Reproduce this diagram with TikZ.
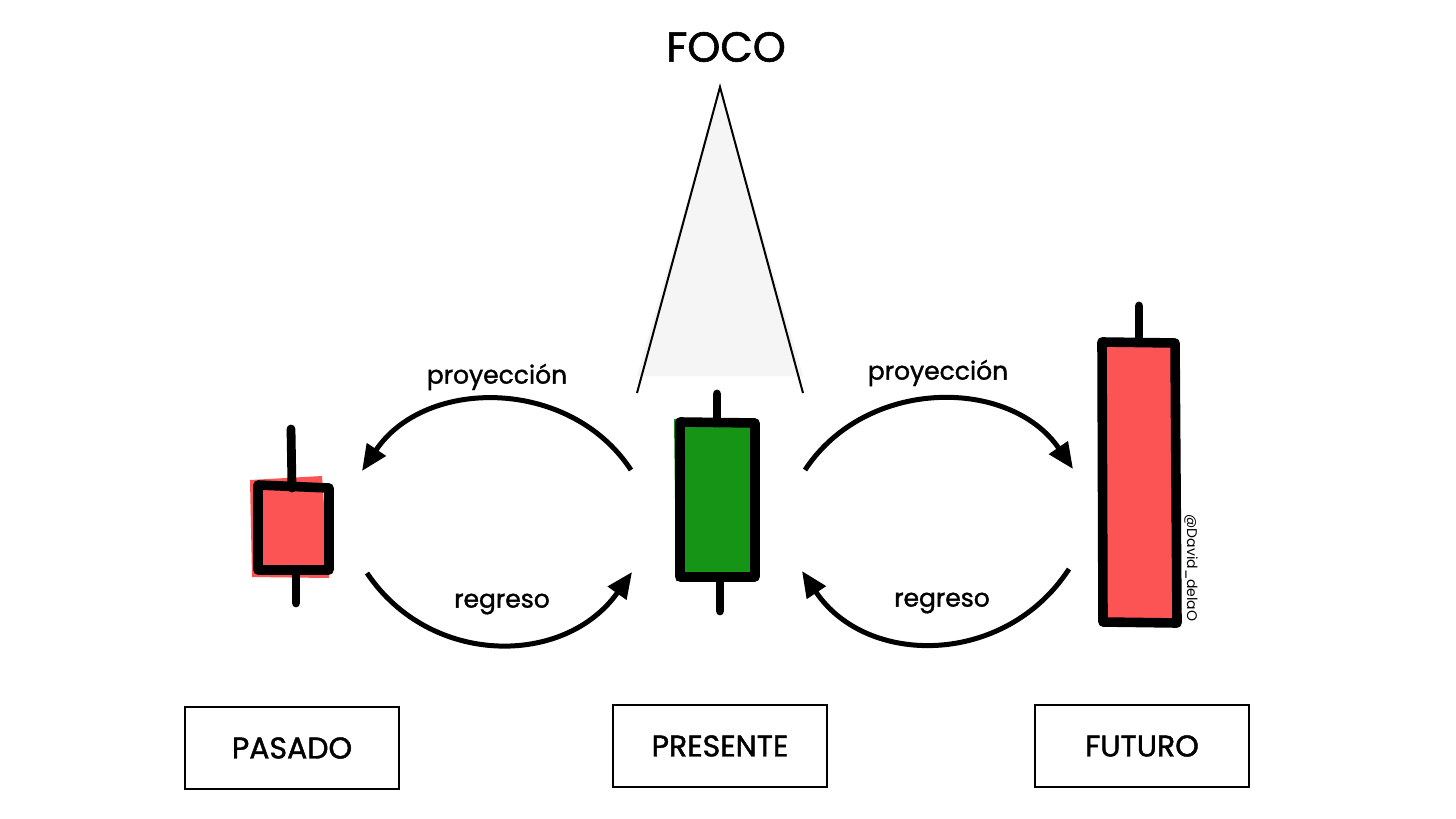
\documentclass[tikz,border=0pt]{standalone}
\usepackage{fontspec}
\setmainfont{Poppins}[BoldFont=Poppins,BoldFeatures={FakeBold=1.4}]
\usetikzlibrary{arrows.meta}
\definecolor{candlered}{RGB}{252,84,84}
\definecolor{candlegreen}{RGB}{22,148,22}
\definecolor{focofill}{RGB}{245,245,245}
\begin{document}
\begin{tikzpicture}[x=0.5pt,y=-0.5pt,
  wick/.style={line width=4.4pt,line cap=round},
  body/.style={line width=4.8pt,line cap=round,line join=round},
  flow/.style={line width=2.5pt,-{Triangle[length=13pt,width=11pt]}},
  labelbox/.style={draw,line width=1.4pt,minimum width=107pt,minimum height=41pt,inner sep=0pt,font=\fontsize{15}{18}\selectfont\bfseries},
  flowlabel/.style={font=\fontsize{12.5}{15}\selectfont\bfseries},
  titlelabel/.style={font=\fontsize{21}{25}\selectfont\bfseries}
]
\useasboundingbox[fill=white] (0,0) rectangle (1456,819);

% focus cone
\fill[focofill] (637,376) -- (720,87) -- (803,376) -- cycle;
\draw[line width=1pt] (637,393) -- (720,87) -- (803,393);
\node[titlelabel] (foco) at (726,47) {FOCO};

% pasado candle
\fill[candlered] (250,480) -- (322,476) -- (329,578) -- (252,577) -- cycle;
\draw[body] (258,485) -- (329,488) -- (329,570) -- (258,570) -- cycle;
\draw[wick] (291,429) -- (292,488);
\draw[wick] (296,572) -- (296,603);

% presente candle
\fill[candlegreen] (674,419) -- (758,421) -- (757,580) -- (676,581) -- cycle;
\draw[body] (680,422) -- (755,423) -- (755,577) -- (680,577) -- cycle;
\draw[wick] (717,394) -- (717,422);
\draw[wick] (720,577) -- (720,611);

% futuro candle
\fill[candlered] (1101,342) -- (1175,342) -- (1172,622) -- (1103,622) -- cycle;
\draw[body] (1102,342) -- (1175,343) -- (1177,623) -- (1103,622) -- cycle;
\draw[wick] (1139,306) -- (1139,342);
\node[rotate=-90,font=\fontsize{7}{8}\selectfont] (firma) at (1191,568) {@David\_delaO};

% arrow end points
\coordinate (pasadoTop) at (362,471);
\coordinate (pasadoBot) at (367,573);
\coordinate (presLT) at (631,470);
\coordinate (presLB) at (632,572);
\coordinate (presRT) at (805,470);
\coordinate (presRB) at (802,571);
\coordinate (futTop) at (1073,469);
\coordinate (futBot) at (1069,569);

\draw[flow] (presLT) .. controls (570,377) and (425,377) .. (pasadoTop);
\draw[flow] (pasadoBot) .. controls (430,667) and (565,667) .. (presLB);
\draw[flow] (presRT) .. controls (866,377) and (1010,377) .. (futTop);
\draw[flow] (futBot) .. controls (1005,667) and (866,667) .. (presRB);

\node[flowlabel] (proyL) at (497,377) {proyección};
\node[flowlabel] (regL) at (502,604) {regreso};
\node[flowlabel] (proyR) at (938,373) {proyección};
\node[flowlabel] (regR) at (942,603) {regreso};

% labels
\node[labelbox] (pasado) at (292,748) {PASADO};
\node[labelbox] (presente) at (720,746) {PRESENTE};
\node[labelbox] (futuro) at (1142,746) {FUTURO};
\end{tikzpicture}
\end{document}
